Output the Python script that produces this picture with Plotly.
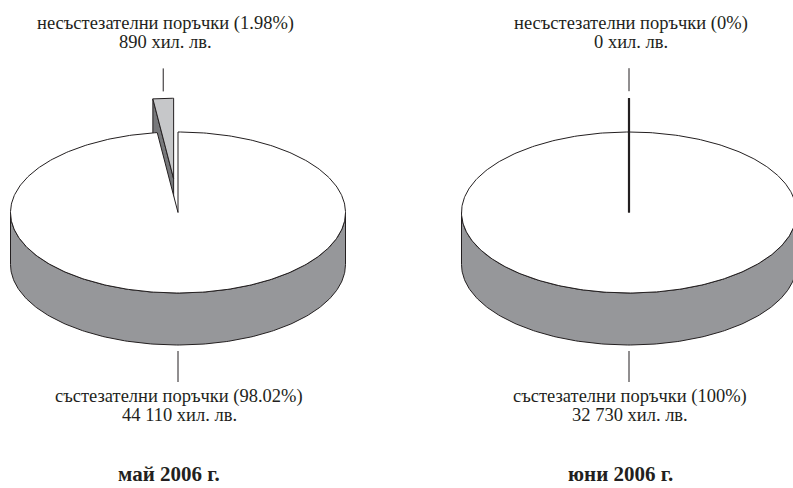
import numpy as np
import plotly.graph_objects as go

# ---------------- data ----------------
months = ["май 2006 г.", "юни 2006 г."]
cat_small = "несъстезателни поръчки"
cat_main = "състезателни поръчки"
noncompetitive = [890, 0]        # хил. лв.
competitive = [44110, 32730]     # хил. лв.
unit = "хил. лв."

# ---------------- geometry / style ----------------
W, H = 793, 488
centers_x = [178, 629]
cy = 212.5
rx, ry = 167.5, 80.5
depth = 52
explode = 0.42
EDGE = "#231f20"
SIDE = "#96979a"
SMALL_TOP = "#c6c7c9"
SMALL_SIDE = "#77787b"
FONT = "Liberation Serif"


def fmt_num(v):
    return f"{v:,}".replace(",", " ")


def fmt_pct(p):
    s = f"{p:.2f}".rstrip("0").rstrip(".")
    return s + "%"


def ell(cx, cyy, a_deg):
    a = np.radians(a_deg)
    return cx + rx * np.cos(a), cyy - ry * np.sin(a)


def arc(cx, cyy, a0, a1, n=200):
    a = np.linspace(a0, a1, n)
    xs, ys = ell(cx, cyy, a)
    return list(xs), list(ys)


fig = go.Figure()


def poly(xs, ys, fill, width=1.0):
    fig.add_trace(go.Scatter(
        x=xs, y=ys, mode="lines", fill="toself", fillcolor=fill,
        line=dict(color=EDGE, width=width), hoverinfo="skip", showlegend=False))


def seg(x0, y0, x1, y1, width=1.0):
    fig.add_trace(go.Scatter(
        x=[x0, x1], y=[y0, y1], mode="lines",
        line=dict(color=EDGE, width=width), hoverinfo="skip", showlegend=False))


annotations = []

for i, cx in enumerate(centers_x):
    total = noncompetitive[i] + competitive[i]
    p_small = noncompetitive[i] / total * 100
    p_main = competitive[i] / total * 100
    sd = p_small / 100 * 360.0          # small slice angular width
    mid = 90 + sd / 2
    ox = explode * rx * np.cos(np.radians(mid))
    oy = -explode * ry * np.sin(np.radians(mid))
    tx, ty = cx + ox, cy + oy

    # --- small (exploded) slice ---
    ax_, ay_ = ell(tx, ty, 90 + sd)
    poly([tx, ax_, ax_, tx, tx], [ty, ay_, ay_ + depth, ty + depth, ty], SMALL_SIDE)
    sx, sy = arc(tx, ty, 90, 90 + sd, 30)
    poly([tx] + sx + [tx], [ty] + sy + [ty], SMALL_TOP)

    # --- main slice: front wall ---
    a0 = max(180, 90 + sd)
    wx, wy = arc(cx, cy, a0, 360)
    bx, by = arc(cx, cy + depth, 360, a0)
    poly(wx + bx + [wx[0]], wy + by + [wy[0]], SIDE)

    # --- main slice: top face ---
    mx, my = arc(cx, cy, 90 + sd, 450, 400)
    poly([cx] + mx + [cx], [cy] + my + [cy], "white")

    if sd == 0:
        # zero-width slice collapses to a single (doubled) edge
        seg(tx, ay_, cx, cy, width=2.2)

    # --- small slice label ---
    lx, ly = ell(tx, ty, mid)
    seg(lx, ly - 7, lx, ly - 30)
    annotations.append(dict(x=lx + 2, y=ly - 75, text=f"{cat_small} ({fmt_pct(p_small)})"))
    annotations.append(dict(x=lx + 2, y=ly - 56, text=f"{fmt_num(noncompetitive[i])} {unit}"))

    # --- main slice label ---
    bot = cy + ry + depth
    seg(cx, bot + 6, cx, bot + 37)
    annotations.append(dict(x=cx + 1, y=bot + 51.5, text=f"{cat_main} ({fmt_pct(p_main)})"))
    annotations.append(dict(x=cx + 1, y=bot + 70, text=f"{fmt_num(competitive[i])} {unit}"))

    # --- month title ---
    annotations.append(dict(x=cx - 9, y=474, text=months[i], bold=True))

anns = []
for a in annotations:
    bold = a.pop("bold", False)
    font = dict(family=FONT, size=21 if bold else 18.5, color=EDGE)
    if bold:
        font["weight"] = "bold"
    anns.append(dict(**a, xref="x", yref="y", showarrow=False,
                     xanchor="center", yanchor="middle", font=font))

fig.update_layout(
    width=W, height=H,
    margin=dict(l=0, r=0, t=0, b=0),
    paper_bgcolor="white", plot_bgcolor="white",
    xaxis=dict(range=[0, W], visible=False, fixedrange=True),
    yaxis=dict(range=[H, 0], visible=False, fixedrange=True),
    annotations=anns,
    showlegend=False,
)

fig.write_html("out.html", post_script="document.body.style.margin='0';",
               config={"displayModeBar": False})
